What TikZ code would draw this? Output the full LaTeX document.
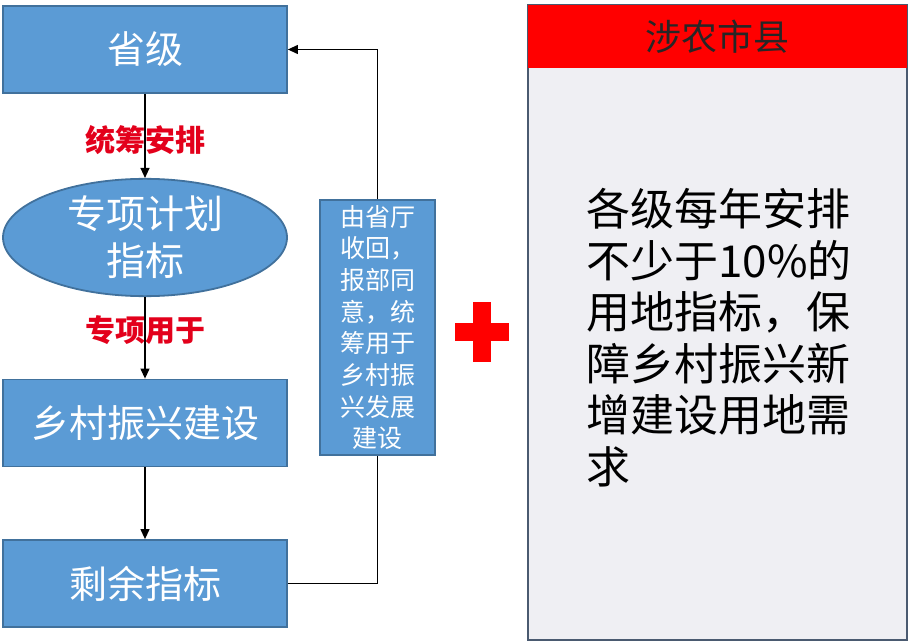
\documentclass[tikz,border=0pt]{standalone}
\usepackage{fontspec}
\setmainfont{Noto Sans CJK SC}
\usetikzlibrary{arrows.meta,shapes.geometric}

\definecolor{boxblue}{HTML}{5B9BD5}
\definecolor{boxline}{HTML}{41719C}
\definecolor{labelred}{HTML}{E3001B}
\definecolor{headred}{HTML}{FF0000}
\definecolor{panelgray}{HTML}{EFEFF3}
\definecolor{panelline}{HTML}{4A5A70}

\tikzset{
  flowbox/.style={draw=boxline, fill=boxblue, line width=1.8pt, minimum width=284pt,
    minimum height=87pt, inner sep=0pt, text=white, font=\fontsize{38}{46}\selectfont},
  flowarrow/.style={-{Triangle[width=9pt,length=10pt]}, line width=1.2pt},
  steplabel/.style={text=labelred, font=\bfseries\fontsize{30}{32}\selectfont}
}

\begin{document}
\begin{tikzpicture}[x=1pt,y=-1pt]
% fix the page size
    \useasboundingbox (0,0) rectangle (910,644);

% left column of the flow
    \node[flowbox] (prov) at (145,49.5) {省级};
    \node[flowbox, ellipse, minimum height=115pt, align=center,
          font=\fontsize{39}{47}\selectfont] (plan) at (145,237.5) {专项计划\\指标};
    \node[flowbox] (rural) at (145,423) {乡村振兴建设};
    \node[flowbox] (rest) at (145,583.5) {剩余指标};

% arrows down the column, with red labels
    \draw[flowarrow] (prov) -- (plan);
    \draw[flowarrow] (plan) -- (rural);
    \draw[flowarrow] (rural) -- (rest);
    \node[steplabel] (arrange) at (145,140) {统筹安排};
    \node[steplabel] (special) at (145,330) {专项用于};

% box on the way back up
    \node[flowbox, minimum width=115pt, minimum height=255pt, align=center,
          font=\fontsize{25}{31.7}\selectfont] (back) at (377.5,327.5)
          {由省厅\\收回，\\报部同\\意，统\\筹用于\\乡村振\\兴发展\\建设};
    \draw[line width=1.2pt] (rest.east) -| (back.south);
    \draw[flowarrow] (back.north) |- (prov.east);

% red plus sign
    \fill[headred] (455,323) rectangle (509,341);
    \fill[headred] (473,302) rectangle (491,362);

% right panel
    \node[draw=panelline, fill=panelgray, line width=1.8pt, minimum width=379pt,
          minimum height=635pt, inner sep=0pt] (panel) at (717.5,322.5) {};
    \node[fill=headred, minimum width=379pt, minimum height=63pt, inner sep=0pt,
          text=black!85, font=\fontsize{36}{38}\selectfont] (head) at (717.5,36.5) {涉农市县};
    \node[anchor=north west, align=left, inner sep=0pt,
          font=\fontsize{44}{51.6}\selectfont] (need) at (586,188)
          {各级每年安排\\不少于10\%的\\用地指标，保\\障乡村振兴新\\增建设用地需\\求};

\end{tikzpicture}
\end{document}
